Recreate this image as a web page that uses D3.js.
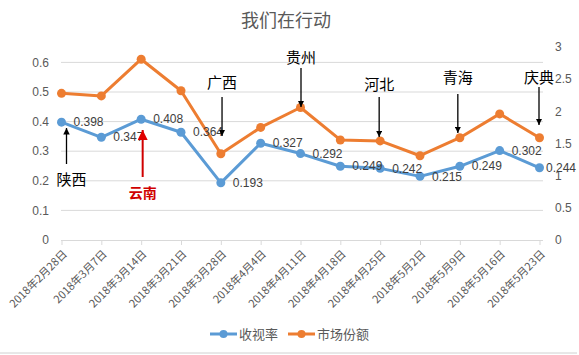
<!DOCTYPE html>
<html><head><meta charset="utf-8">
<script src="https://cdn.jsdelivr.net/npm/d3@7/dist/d3.min.js"></script>
<style>
body{margin:0;background:#fff;}
svg{display:block;font-family:"Noto Sans CJK SC","Liberation Sans",sans-serif;}
</style></head><body>
<svg id="c" width="579" height="355"></svg>
<script>
const title = "我们在行动";
const categories = ["2018年2月28日","2018年3月7日","2018年3月14日","2018年3月21日","2018年3月28日","2018年4月4日","2018年4月11日","2018年4月18日","2018年4月25日","2018年5月2日","2018年5月9日","2018年5月16日","2018年5月23日"];
const ratings = [0.398,0.347,0.408,0.364,0.193,0.327,0.292,0.249,0.242,0.215,0.249,0.302,0.244];
const share = [2.28,2.24,2.81,2.32,1.34,1.75,2.06,1.555,1.54,1.31,1.59,1.96,1.59];
const leftTicks = [0,0.1,0.2,0.3,0.4,0.5,0.6];
const rightTicks = [0,0.5,1,1.5,2,2.5,3];
const seriesNames = ["收视率","市场份额"];
const annoLabels = ["陕西","云南","广西","贵州","河北","青海","庆典"];
const annoIndex = [0,2,4,6,8,10,12];

const svg = d3.select("#c");
const blue = "#5b9bd5", orange = "#ed7d31", grid = "#d9d9d9", txt = "#595959";

const x = d3.scalePoint().domain(categories).range([61.5, 539.5]);
const yL = d3.scaleLinear().domain([0,0.6]).range([240, 62.4]);
const yR = d3.scaleLinear().domain([0,3]).range([240, 47]);

// border bottom
svg.append("line").attr("x1",0).attr("x2",577).attr("y1",353).attr("y2",353).attr("stroke","#d0d0d0");

// title
svg.append("text").attr("x",286).attr("y",27).attr("text-anchor","middle")
  .attr("font-size",18).attr("fill","#595959").text(title);

// gridlines
svg.append("g").selectAll("line").data(leftTicks.slice(1)).join("line")
  .attr("x1",61).attr("x2",543).attr("y1",d=>yL(d)).attr("y2",d=>yL(d))
  .attr("stroke",grid).attr("stroke-width",1);

// left axis labels
svg.append("g").selectAll("text").data(leftTicks).join("text")
  .attr("x",49).attr("y",d=>yL(d)).attr("dy","0.35em").attr("text-anchor","end")
  .attr("font-size",12).attr("fill",txt).attr("font-family","Liberation Sans, sans-serif")
  .text(d=>d3.format("")(d));

// right axis labels
svg.append("g").selectAll("text").data(rightTicks).join("text")
  .attr("x",555).attr("y",d=>yR(d)).attr("dy","0.35em").attr("text-anchor","start")
  .attr("font-size",12).attr("fill",txt).attr("font-family","Liberation Sans, sans-serif")
  .text(d=>d3.format("")(d));

// x axis
const xa = svg.append("g").attr("transform","translate(0,240)")
  .call(d3.axisBottom(x).tickSizeOuter(0).tickSize(5));
xa.select(".domain").attr("stroke",grid).attr("d","M61,0.5H543");
xa.selectAll(".tick line").attr("stroke",grid);
xa.selectAll(".tick text").attr("fill",txt).attr("font-size",11)
  .attr("font-family","Noto Sans CJK SC, sans-serif")
  .attr("text-anchor","end").attr("x",0).attr("y",0).attr("dy","0.35em")
  .attr("transform","translate(3,12) rotate(-45)");

// lines
const lineL = d3.line().x((d,i)=>x(categories[i])).y(d=>yL(d));
const lineR = d3.line().x((d,i)=>x(categories[i])).y(d=>yR(d));
svg.append("path").datum(share).attr("d",lineR).attr("fill","none")
  .attr("stroke",orange).attr("stroke-width",3).attr("stroke-linejoin","round");
svg.append("g").selectAll("circle").data(share).join("circle")
  .attr("cx",(d,i)=>x(categories[i])).attr("cy",d=>yR(d)).attr("r",4.5).attr("fill",orange);
svg.append("path").datum(ratings).attr("d",lineL).attr("fill","none")
  .attr("stroke",blue).attr("stroke-width",3).attr("stroke-linejoin","round");
svg.append("g").selectAll("circle").data(ratings).join("circle")
  .attr("cx",(d,i)=>x(categories[i])).attr("cy",d=>yL(d)).attr("r",4.5).attr("fill",blue);

// data labels
svg.append("g").selectAll("text").data(ratings).join("text")
  .attr("x",(d,i)=>Math.min(x(categories[i])+12, 546)).attr("y",d=>yL(d)).attr("dy","0.35em")
  .attr("font-size",12).attr("fill","#404040").attr("font-family","Liberation Sans, sans-serif")
  .text(d=>d3.format(".3f")(d));

// annotations
const defs = svg.append("defs");
[["blk","#000"],["red","#e00000"]].forEach(([id,c])=>{
  defs.append("marker").attr("id",id).attr("viewBox","0 0 10 10").attr("refX",10).attr("refY",5)
    .attr("markerWidth",5).attr("markerHeight",5).attr("markerUnits","strokeWidth").attr("orient","auto")
    .append("path").attr("d","M0,0L10,5L0,10z").attr("fill",c);
});
// per-annotation drawing params: [dx, textY, lineFrom, lineTo, color, bold]
const annoDraw = [
  [5, 180, 164, 128, "#000", false],
  [1.5, 193, 177, 130, "#d00000", true],
  [1.2, 83, 97, 136, "#000", false],
  [0.5, 58, 68, 107, "#000", false],
  [-1, 85, 97, 137, "#000", false],
  [-2, 78, 94, 133, "#000", false],
  [-0.5, 78, 87, 125, "#000", false]
];
annoLabels.forEach((lab,k)=>{
  const [dx,ty,y1,y2,col,bold] = annoDraw[k];
  const cx = x(categories[annoIndex[k]]) + dx;
  svg.append("line").attr("x1",cx).attr("x2",cx).attr("y1",y1).attr("y2",y2)
    .attr("stroke",col).attr("stroke-width",col==="#000"?1.3:2)
    .attr("marker-end",`url(#${col==="#000"?"blk":"red"})`);
  svg.append("text").attr("x",cx + (k===0?5:0)).attr("y",ty).attr("dy","0.35em").attr("text-anchor","middle")
    .attr("font-size",bold?14:15).attr("font-weight",bold?"bold":"normal").attr("fill",col).text(lab);
});

// legend
const lg = svg.append("g");
const lgItems = [[seriesNames[0],blue,210],[seriesNames[1],orange,288]];
lgItems.forEach(([name,c,lx])=>{
  lg.append("line").attr("x1",lx).attr("x2",lx+27).attr("y1",334).attr("y2",334)
    .attr("stroke",c).attr("stroke-width",3);
  lg.append("circle").attr("cx",lx+13.5).attr("cy",334).attr("r",4).attr("fill",c);
  lg.append("text").attr("x",lx+29).attr("y",334).attr("dy","0.35em")
    .attr("font-size",13).attr("fill",txt).text(name);
});
</script>
</body></html>
